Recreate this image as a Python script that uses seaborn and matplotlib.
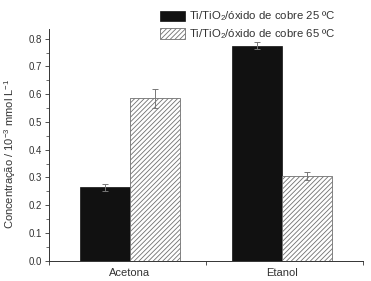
import matplotlib
matplotlib.use("Agg")
import matplotlib.pyplot as plt
import seaborn as sns
import pandas as pd
from matplotlib.ticker import MultipleLocator
from matplotlib.patches import Patch

categories = ["Acetona", "Etanol"]
series = ["Ti/TiO$_2$/óxido de cobre 25 ºC", "Ti/TiO$_2$/óxido de cobre 65 ºC"]
values_25 = [0.265, 0.775]
values_65 = [0.586, 0.306]
err_25 = [0.012, 0.013]
err_65 = [0.034, 0.014]

df = pd.DataFrame({
    "cat": categories * 2,
    "series": [series[0]] * 2 + [series[1]] * 2,
    "val": values_25 + values_65,
    "err": err_25 + err_65,
})

sns.set_style("ticks")
plt.rcParams["font.family"] = ["Liberation Sans", "DejaVu Sans"]
plt.rcParams["mathtext.fontset"] = "custom"
plt.rcParams["mathtext.rm"] = "Liberation Sans"
plt.rcParams["hatch.color"] = "#9a9a9a"
plt.rcParams["hatch.linewidth"] = 0.6

TXT = "#333333"
fig = plt.figure(figsize=(3.71, 2.81), dpi=100)
ax = fig.add_axes([0.132, 0.072, 0.846, 0.825])

sns.barplot(data=df, x="cat", y="val", hue="series", order=categories,
            hue_order=series, width=0.66, palette=["#111111", "white"],
            errorbar=None, ax=ax, legend=False, saturation=1)

n = len(categories)
for i, p in enumerate(ax.patches[:2 * n]):
    if i < n:
        p.set_edgecolor("#111111")
        p.set_linewidth(0.5)
    else:
        p.set_hatch("///////")
        p.set_edgecolor("#707070")
        p.set_linewidth(0.6)

errs = err_25 + err_65
vals = values_25 + values_65
for p, e, v in zip(ax.patches[:2 * n], errs, vals):
    xc = p.get_x() + p.get_width() / 2
    ax.errorbar(xc, v, yerr=e, color="#777777", elinewidth=0.7, capsize=2.5,
                capthick=0.7, fmt="none")

ax.set_xlim(-0.533, 1.533)
ax.set_ylim(0, 0.835)
ax.yaxis.set_major_locator(MultipleLocator(0.1))
ax.yaxis.set_minor_locator(MultipleLocator(0.05))
ax.set_xticks([-0.533, 0, 0.5, 1, 1.533])
ax.set_xticklabels(["", "Acetona", "", "Etanol", ""])
ax.tick_params(axis="x", which="major", length=3, width=0.6, labelsize=8, pad=2,
               color=TXT, labelcolor=TXT)
for t, pos in zip(ax.xaxis.get_major_ticks(), [-0.533, 0, 0.5, 1, 1.533]):
    if pos in (0, 1):
        t.tick1line.set_visible(False)
ax.tick_params(axis="y", which="major", length=3, width=0.6, labelsize=7, pad=2,
               color=TXT, labelcolor=TXT)
ax.tick_params(axis="y", which="minor", length=2, width=0.5, color=TXT)
ax.yaxis.set_major_formatter(matplotlib.ticker.FormatStrFormatter("%.1f"))
for s in ["top", "right"]:
    ax.spines[s].set_visible(False)
for s in ["left", "bottom"]:
    ax.spines[s].set_linewidth(0.7)
    ax.spines[s].set_color(TXT)

ax.set_xlabel("")
ax.set_ylabel("Concentração / 10$^{-3}$ mmol L$^{-1}$", fontsize=8, color=TXT)
ax.yaxis.set_label_coords(-0.1, 0.46)

handles = [Patch(facecolor="#111111", edgecolor="#111111", linewidth=0.5),
           Patch(facecolor="white", edgecolor="#707070", hatch="///////", linewidth=0.6)]
fig.legend(handles, series, loc="upper left", bbox_to_anchor=(0.413, 0.99),
           frameon=False, fontsize=8.2, handlelength=2.2, handleheight=1.0,
           labelspacing=0.35, handletextpad=0.35, borderpad=0.1, labelcolor=TXT)

fig.savefig("out.png", dpi=100)
